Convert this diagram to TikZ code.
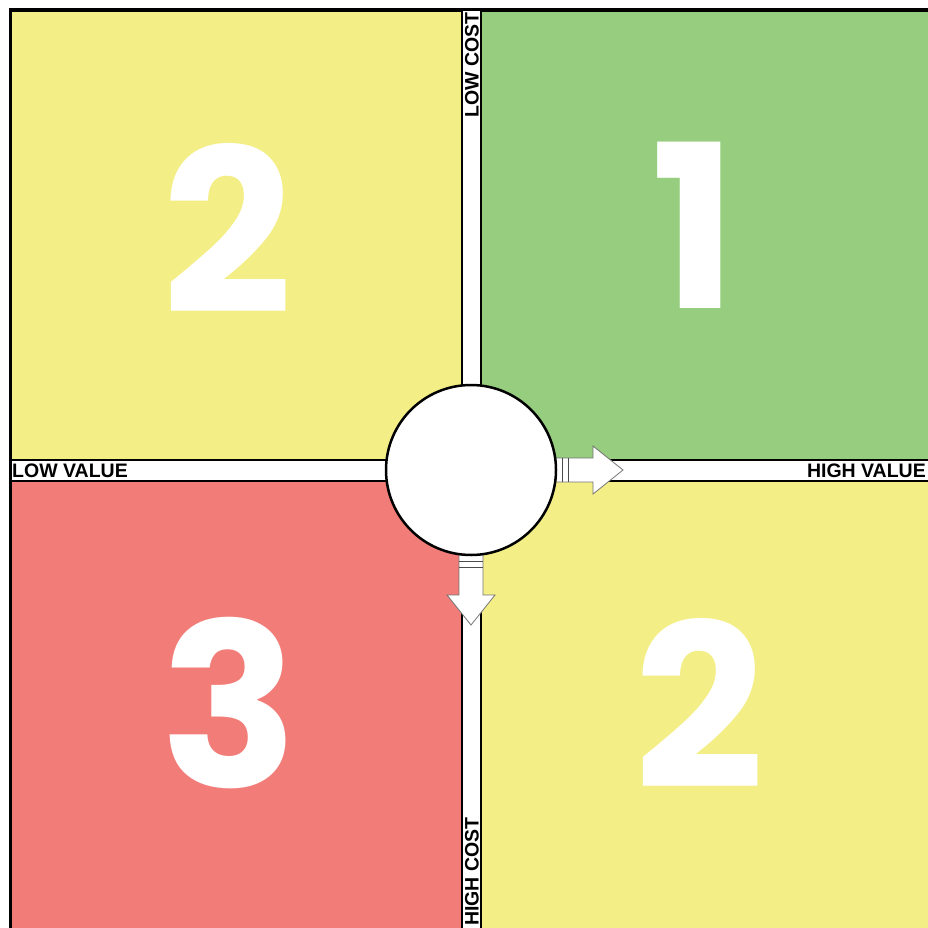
\documentclass[tikz,border=0pt]{standalone}
\usepackage{fontspec}
\setmainfont{Liberation Sans}
\newfontfamily\digitfont{Poppins}
\usetikzlibrary{calc}
\definecolor{quadyellow}{RGB}{244,238,134}
\definecolor{quadgreen}{RGB}{150,205,126}
\definecolor{quadred}{RGB}{242,124,120}

\begin{document}
\begin{tikzpicture}[x=1pt, y=-1pt,
  quad/.style={draw=black, line width=2pt},
  digit/.style={text=white, inner sep=0pt, font=\fontsize{228}{228}\selectfont\digitfont\bfseries},
  axislabel/.style={inner sep=0pt, font=\fontsize{19.5}{19.5}\selectfont\bfseries},
  flow/.style={draw=black!55, fill=white, line width=0.8pt}]
\useasboundingbox (0,0) rectangle (928,928);
\clip (0,0) rectangle (928,928);
\fill[white] (0,0) rectangle (928,928);
\draw[line width=3pt] (10,940) -- (10,10) -- (940,10);
\foreach \xa/\ya/\xb/\yb/\col in {11/11/462/460/quadyellow, 481/11/940/460/quadgreen,
    11/481/462/940/quadred, 481/481/940/940/quadyellow} {
  \filldraw[quad, fill=\col] (\xa,\ya) rectangle (\xb,\yb);
}
\node[digit] (nw) at (228,228) {2};
\node[digit] (ne) at (694,225) {1};
\node[digit] (sw) at (229,703) {3};
\node[digit] (se) at (700,703) {2};
\coordinate (ctr) at (471,470);
% arrows out of the hub
\draw[flow] ($(ctr)+(70,-12)$) -- ++(52,0) -- ++(0,-12) -- ++(30,24) -- ++(-30,24)
  -- ++(0,-12) -- ++(-52,0) -- cycle;
\draw[flow] ($(ctr)+(-12,70)$) -- ++(0,55) -- ++(-12,0) -- ++(24,30) -- ++(24,-30)
  -- ++(-12,0) -- ++(0,-55) -- cycle;
\foreach \d in {91,97} {
  \draw[black!70] ($(ctr)+(\d,-12)$) -- ++(0,24);
  \draw[black!70] ($(ctr)+(-12,\d)$) -- ++(24,0);
}
\node[circle, draw, fill=white, line width=2.5pt, minimum size=170pt, inner sep=0pt] (hub) at (ctr) {};
\node[axislabel, anchor=west] (lowvalue) at (12,471) {LOW VALUE};
\node[axislabel, anchor=east] (highvalue) at (926,471) {HIGH VALUE};
\node[axislabel, anchor=west, rotate=90] (lowcost) at (472,118) {LOW COST};
\node[axislabel, anchor=west, rotate=90] (highcost) at (472,926) {HIGH COST};
\end{tikzpicture}
\end{document}
